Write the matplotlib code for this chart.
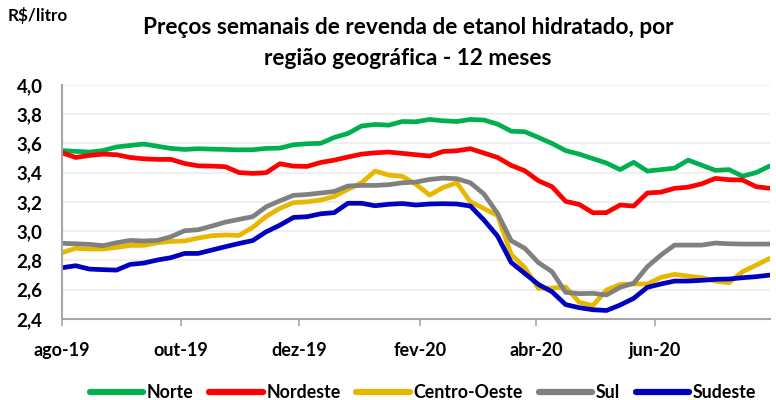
import numpy as np
import pandas as pd
import matplotlib
matplotlib.use("Agg")
import matplotlib.pyplot as plt
from matplotlib.ticker import FuncFormatter

# weekly observations, aug-2019 .. jul-2020
weeks = pd.date_range("2019-08-01", periods=53, freq="7D")

norte = [3.55, 3.545, 3.54, 3.55, 3.575, 3.585, 3.595, 3.58, 3.565, 3.558,
         3.563, 3.56, 3.558, 3.555, 3.556, 3.565, 3.567, 3.59, 3.597, 3.60,
         3.64, 3.667, 3.718, 3.729, 3.724, 3.749, 3.747, 3.763, 3.754, 3.749,
         3.763, 3.759, 3.731, 3.683, 3.679, 3.64, 3.599, 3.55, 3.526, 3.495,
         3.465, 3.42, 3.47, 3.41, 3.42, 3.43, 3.485, 3.45, 3.415, 3.42,
         3.375, 3.40, 3.445]
nordeste = [3.535, 3.503, 3.517, 3.526, 3.522, 3.503, 3.494, 3.49, 3.49, 3.462,
            3.446, 3.444, 3.44, 3.40, 3.394, 3.399, 3.46, 3.444, 3.442, 3.469,
            3.485, 3.506, 3.526, 3.535, 3.54, 3.531, 3.522, 3.513, 3.544, 3.549,
            3.563, 3.533, 3.503, 3.449, 3.412, 3.344, 3.303, 3.203, 3.182, 3.125,
            3.126, 3.178, 3.171, 3.26, 3.266, 3.292, 3.30, 3.323, 3.36, 3.351,
            3.349, 3.303, 3.292]
centro_oeste = [2.852, 2.882, 2.877, 2.877, 2.888, 2.902, 2.902, 2.92, 2.929, 2.932,
                2.952, 2.968, 2.973, 2.97, 3.025, 3.10, 3.155, 3.194, 3.20, 3.212,
                3.237, 3.285, 3.33, 3.41, 3.383, 3.374, 3.32, 3.246, 3.298, 3.33,
                3.20, 3.154, 3.105, 2.84, 2.75, 2.608, 2.61, 2.617, 2.513, 2.49,
                2.597, 2.635, 2.638, 2.638, 2.683, 2.704, 2.692, 2.681, 2.658, 2.647,
                2.722, 2.767, 2.813]
sul = [2.916, 2.913, 2.909, 2.90, 2.92, 2.936, 2.932, 2.936, 2.961, 3.002,
       3.009, 3.034, 3.061, 3.08, 3.098, 3.166, 3.207, 3.244, 3.25, 3.26,
       3.271, 3.308, 3.312, 3.312, 3.317, 3.33, 3.335, 3.353, 3.362, 3.358,
       3.33, 3.253, 3.12, 2.934, 2.882, 2.784, 2.722, 2.581, 2.572, 2.574,
       2.563, 2.615, 2.643, 2.756, 2.836, 2.904, 2.904, 2.904, 2.918, 2.913,
       2.911, 2.911, 2.911]
sudeste = [2.749, 2.763, 2.74, 2.736, 2.733, 2.772, 2.781, 2.802, 2.818, 2.847,
           2.847, 2.87, 2.893, 2.915, 2.935, 2.995, 3.04, 3.093, 3.098, 3.118,
           3.126, 3.19, 3.19, 3.173, 3.183, 3.188, 3.178, 3.185, 3.187, 3.185,
           3.171, 3.075, 2.965, 2.785, 2.71, 2.635, 2.585, 2.497, 2.476, 2.462,
           2.457, 2.494, 2.54, 2.615, 2.638, 2.658, 2.658, 2.663, 2.67, 2.672,
           2.681, 2.688, 2.699]

series = [("Norte", norte, "#00b050"),
          ("Nordeste", nordeste, "#ff0000"),
          ("Centro-Oeste", centro_oeste, "#e8b800"),
          ("Sul", sul, "#808080"),
          ("Sudeste", sudeste, "#0000c0")]

tick_dates = pd.to_datetime(["2019-08-01", "2019-10-01", "2019-12-01",
                             "2020-02-01", "2020-04-01", "2020-06-01"])
tick_labels = ["ago-19", "out-19", "dez-19", "fev-20", "abr-20", "jun-20"]

plt.rcParams["font.family"] = ["Lato", "DejaVu Sans"]
plt.rcParams["font.weight"] = "bold"

fig = plt.figure(figsize=(7.76, 4.0), dpi=100)
ax = fig.add_axes([0.08, 0.203, 0.912, 0.585])

for name, vals, col in series:
    ax.plot(weeks, vals, color=col, lw=3.4, label=name, solid_capstyle="round")

ax.set_ylim(2.4, 4.0)
ax.set_yticks(np.arange(2.4, 4.01, 0.2))
ax.yaxis.set_major_formatter(FuncFormatter(lambda v, p: f"{v:.1f}".replace(".", ",")))
ax.set_xlim(weeks[0], weeks[-1])
ax.set_xticks(tick_dates)
ax.set_xticklabels(tick_labels)

ax.grid(axis="y", color="#ececec", lw=1.2)
ax.set_axisbelow(True)
for s in ["top", "right"]:
    ax.spines[s].set_visible(False)
for s in ["left", "bottom"]:
    ax.spines[s].set_color("#a6a6a6")
    ax.spines[s].set_linewidth(1.5)
ax.tick_params(axis="y", length=0, pad=14, labelsize=13.5)
ax.tick_params(axis="x", length=5, color="#a6a6a6", width=1.2, pad=12, labelsize=13)
for lab in ax.get_xticklabels() + ax.get_yticklabels():
    lab.set_fontweight("bold")

fig.text(0.526, 0.93, "Preços semanais de revenda de etanol hidratado, por",
         ha="center", va="center", fontsize=16.3, fontweight="bold")
fig.text(0.526, 0.853, "região geográfica - 12 meses",
         ha="center", va="center", fontsize=16.3, fontweight="bold")
fig.text(0.01, 0.96, "R$/litro", ha="left", va="center", fontsize=12.3, fontweight="bold")

leg = fig.legend(loc="center", bbox_to_anchor=(0.545, 0.018), ncol=5, frameon=False,
                 handlelength=3.0, handletextpad=0.2, columnspacing=0.9,
                 prop={"weight": "bold", "size": 12.8})
for h in leg.get_lines():
    h.set_linewidth(4.5)

fig.savefig("out.png", dpi=100)
